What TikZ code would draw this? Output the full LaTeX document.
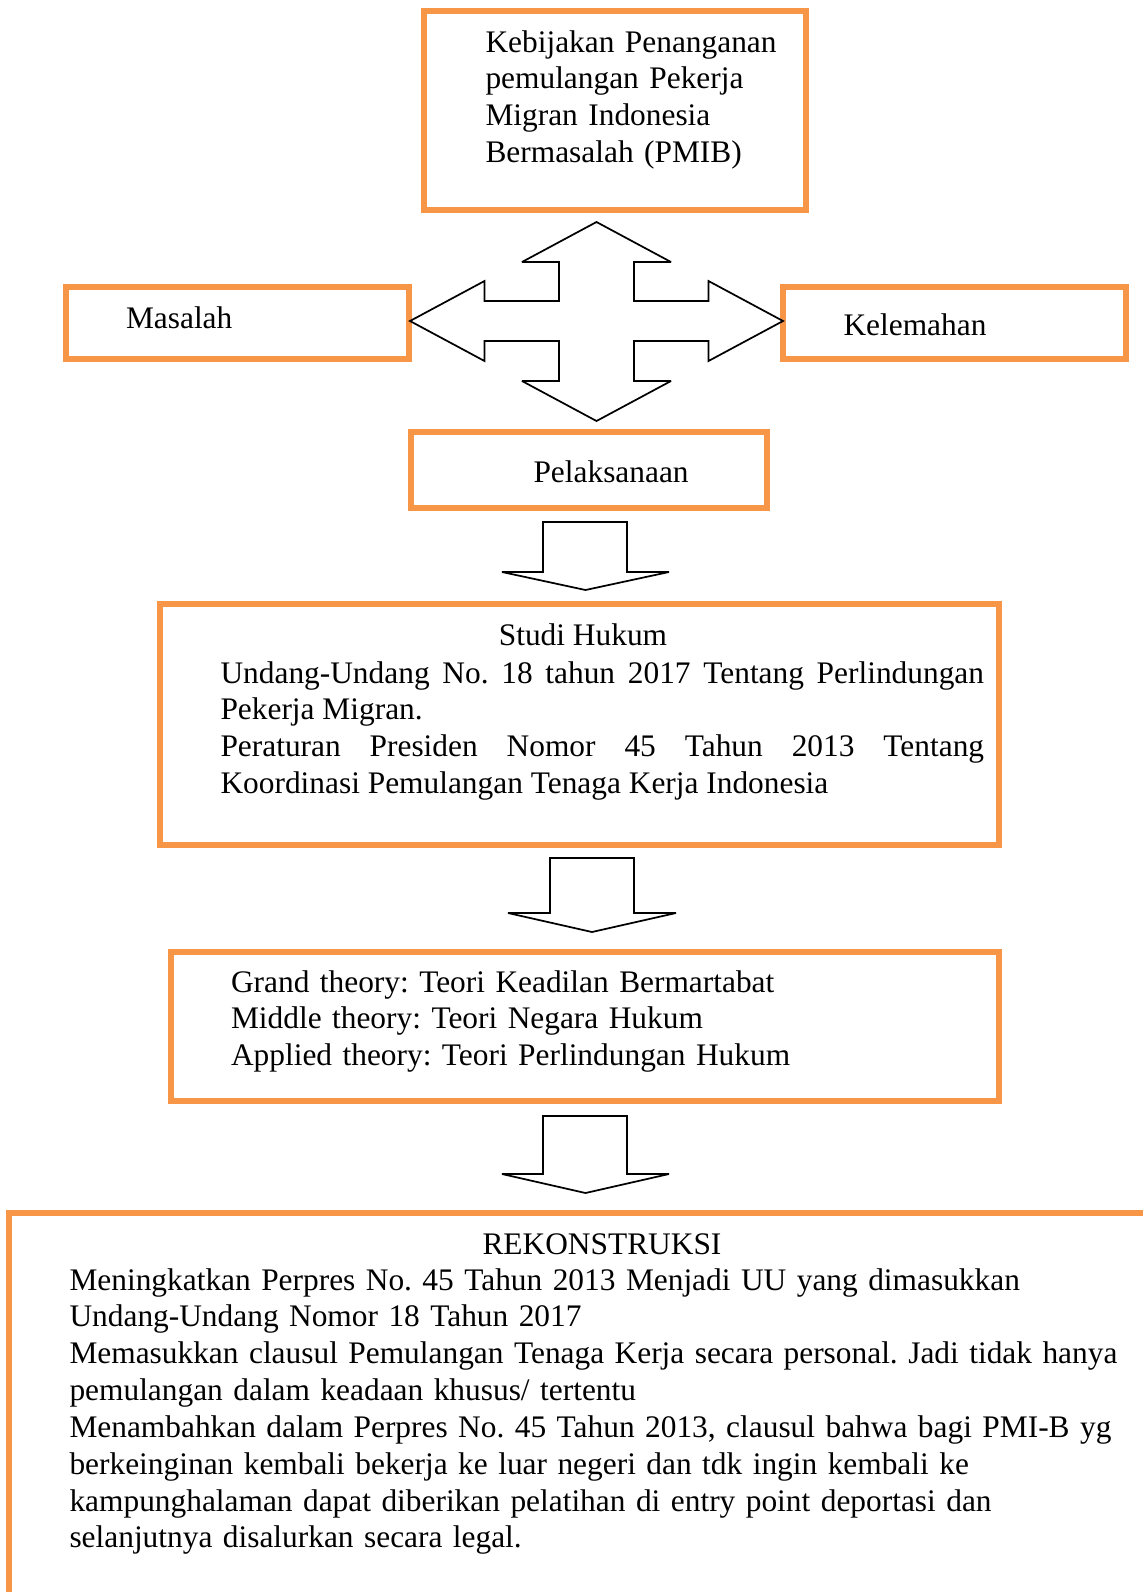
\documentclass[tikz,border=0pt]{standalone}
\usepackage{fontspec}
\setmainfont{Liberation Serif}
\usetikzlibrary{fit}

\definecolor{oranye}{HTML}{F79646}
\tikzset{
  kotak/.style={draw=oranye, line width=1.9pt, inner sep=0pt},
  teks/.style={inner sep=0pt, font=\fontsize{11.8}{13.85}\selectfont\frenchspacing},
  panah/.style={draw=black, line width=0.65pt, line join=miter, miter limit=3, fill=white},
}

\begin{document}
\begin{tikzpicture}[x=0.376pt, y=-0.376pt]
                \useasboundingbox (0,0) rectangle (1142,1592);

                % kotak-kotak
                \node[kotak, fit={(424,11) (806,210)}] (pmib) {};
                \node[kotak, fit={(66,287) (409,359)}] (masalah) {};
                \node[kotak, fit={(783,287) (1126,359)}] (kelemahan) {};
                \node[kotak, fit={(411,432) (767,508)}] (pelaksanaan) {};
                \node[kotak, fit={(160,604) (999,845)}] (studi) {};
                \node[kotak, fit={(171,952) (999,1101)}] (teori) {};
                \node[kotak, fit={(9,1213) (1180,1640)}] (rekon) {};

                % teks
                \node[teks, anchor=base west, text width=140pt, align=left] (pmibteks) at (485,52)
                    {Kebijakan Penanganan\\ pemulangan Pekerja\\ Migran Indonesia\\ Bermasalah (PMIB)};
                \node[teks, anchor=base west] (masalahteks) at (125.5,328) {Masalah};
                \node[teks, anchor=base west] (kelemahanteks) at (843,335) {Kelemahan};
                \node[teks, anchor=base west] (pelaksanaanteks) at (533,482) {Pelaksanaan};
                \node[teks, anchor=base] (studijudul) at (583,645) {Studi Hukum};
                \node[teks, anchor=base west, text width=287.1pt, align=justify] (studiteks) at (220,683)
                    {\hyphenpenalty=10000 Undang-Undang No. 18 tahun 2017 Tentang Perlindungan\linebreak Pekerja Migran.\par
                     Peraturan Presiden Nomor 45 Tahun 2013 Tentang\linebreak Koordinasi Pemulangan Tenaga Kerja Indonesia\par};
                \node[teks, anchor=base west, text width=263pt, align=left] (teoriteks) at (230.5,992)
                    {Grand theory: Teori Keadilan Bermartabat\\ Middle theory: Teori Negara Hukum\\ Applied theory: Teori Perlindungan Hukum};
                \node[teks, anchor=base] (rekonjudul) at (602,1254) {REKONSTRUKSI};
                \node[teks, anchor=base west, text width=413pt, align=left] (rekonteks) at (69,1290)
                    {Meningkatkan Perpres No. 45 Tahun 2013 Menjadi UU yang dimasukkan\\
                     Undang-Undang Nomor 18 Tahun 2017\\
                     Memasukkan clausul Pemulangan Tenaga Kerja secara personal. Jadi tidak hanya\\
                     pemulangan dalam keadaan khusus/ tertentu\\
                     Menambahkan dalam Perpres No. 45 Tahun 2013, clausul bahwa bagi PMI-B yg\\
                     berkeinginan kembali bekerja ke luar negeri dan tdk ingin kembali ke\\
                     kampunghalaman dapat diberikan pelatihan di entry point deportasi dan\\
                     selanjutnya disalurkan secara legal.};

                % panah empat arah
                \coordinate (pusat) at (596.5,321);
                \draw[panah, shift={(pusat)}] (0,-99) -- (74.5,-59) -- (37.5,-59) -- (37.5,-20)
                    -- (112,-20) -- (112,-40) -- (186.5,0) -- (112,40) -- (112,20) -- (37.5,20)
                    -- (37.5,60) -- (74.5,60) -- (0,100) -- (-74.5,60) -- (-37.5,60) -- (-37.5,20)
                    -- (-112,20) -- (-112,40) -- (-186.5,0) -- (-112,-40) -- (-112,-20) -- (-37.5,-20)
                    -- (-37.5,-59) -- (-74.5,-59) -- cycle;

                % panah ke bawah
                \draw[panah] (543,522) -- (627,522) -- (627,572) -- (669,572)
                    -- (585.5,590) -- (502,572) -- (543,572) -- cycle;
                \draw[panah] (550,858) -- (634,858) -- (634,913) -- (676,913)
                    -- (592,932) -- (508,913) -- (550,913) -- cycle;
                \draw[panah] (543,1116) -- (627,1116) -- (627,1174) -- (669,1174)
                    -- (585.5,1193) -- (502,1174) -- (543,1174) -- cycle;
            \end{tikzpicture}
\end{document}
